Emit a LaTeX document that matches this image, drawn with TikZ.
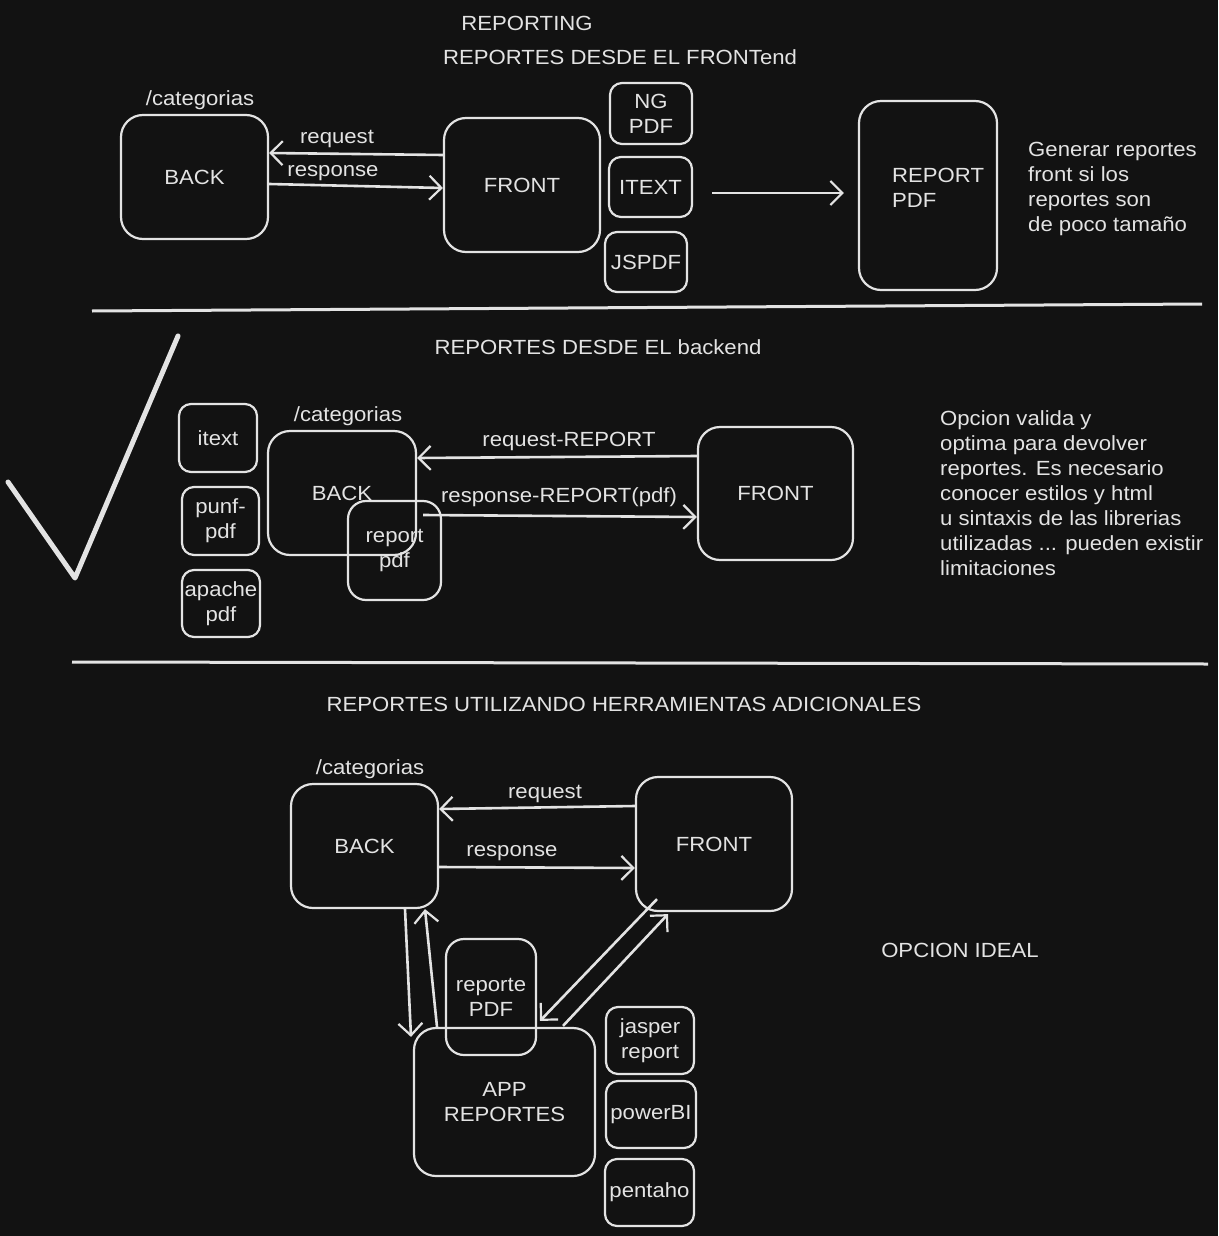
\documentclass[tikz,border=0pt]{standalone}
\usepackage{fontspec}
\setmainfont[FakeStretch=1.08]{Liberation Sans}
\usetikzlibrary{arrows.meta}
\definecolor{bg}{HTML}{121212}
\definecolor{ink}{HTML}{E3E3E3}
\begin{document}
\begin{tikzpicture}[x=1pt,y=-1pt,
  every node/.style={text=ink, font=\fontsize{20.5}{25}\selectfont},
  bigbox/.style={draw=ink, line width=2.2pt, rounded corners=22pt, inner sep=0pt, align=center},
  smallbox/.style={draw=ink, line width=2.2pt, rounded corners=12pt, inner sep=0pt, align=center},
  flow/.style={draw=ink, line width=2.6pt, -{Straight Barb[length=12pt,width=24pt,line width=2.2pt]}},
  rule/.style={draw=ink, line width=3pt},
  lbl/.style={inner sep=0pt, yshift=-2pt},
  note/.style={align=left, anchor=north west, inner sep=0pt}
]
% canvas
\fill[bg] (0,0) rectangle (1218,1236);
\useasboundingbox (0,0) rectangle (1218,1236);

% ---------- reports from the front end ----------
\node[lbl] (ttl0) at (527,21) {REPORTING};
\node[lbl] (ttl1) at (620,55) {REPORTES DESDE EL FRONTend};
\node[lbl] (cat1) at (200,98) {/categorias};
\node[bigbox, minimum width=147pt, minimum height=124pt] (back1) at (194.5,177) {BACK};
\node[bigbox, minimum width=156pt, minimum height=134pt] (front1) at (522,185) {FRONT};
\node[smallbox, minimum width=82pt, minimum height=61pt] (ngpdf) at (651,113.5) {NG\\PDF};
\node[smallbox, minimum width=83pt, minimum height=60pt] (itext1) at (650.5,187) {ITEXT};
\node[smallbox, minimum width=82pt, minimum height=60pt] (jspdf) at (646,262) {JSPDF};
\node[bigbox, minimum width=138pt, minimum height=189pt] (report1) at (928,195.5) {};
\node[lbl, align=left, anchor=west] (reporttxt) at (892,185.5) {REPORT\\PDF};
\node[note] (note1) at (1028,142) {Generar reportes\\front si los\\reportes son\\de poco tamaño};

\draw[flow] ([yshift=30pt]front1.west) -- ([yshift=24pt]back1.east);
\node[lbl] (req1) at (337,137) {request};
\draw[flow] ([yshift=-7pt]back1.east) -- ([yshift=-3pt]front1.west);
\node[lbl] (res1) at (333,171) {response};
\draw[flow] ([xshift=19pt,yshift=-6pt]itext1.east) -- ([xshift=-14pt,yshift=2.5pt]report1.west);

\draw[rule] (92,311) -- (1202,304);

% ---------- reports from the back end ----------
\node[lbl] (ttl2) at (598,345) {REPORTES DESDE EL backend};
\draw[ink, line width=5pt, line join=round, line cap=round] (8,482) -- (75,578) -- (178,336);
\node[smallbox, minimum width=78pt, minimum height=68pt] (itext2) at (218,438) {itext};
\node[smallbox, minimum width=77pt, minimum height=68pt] (punf) at (220.5,521) {punf-\\pdf};
\node[smallbox, minimum width=78pt, minimum height=67pt] (apache) at (221,603.5) {apache\\pdf};
\node[lbl] (cat2) at (348,414) {/categorias};
\node[bigbox, minimum width=148pt, minimum height=124pt] (back2) at (342,493) {BACK};
\node[smallbox, rounded corners=18pt, minimum width=93pt, minimum height=99pt] (rep2) at (394.5,550.5) {report\\pdf};
\node[bigbox, minimum width=155pt, minimum height=133pt] (front2) at (775.5,493.5) {FRONT};

\draw[flow] ([yshift=37.5pt]front2.west) -- ([yshift=35pt]back2.east);
\node[lbl] (req2) at (569,439) {request-REPORT};
\draw[flow] ([xshift=6pt,yshift=-22pt]back2.east) -- ([yshift=-23.5pt]front2.west);
\node[lbl] (res2) at (559,495) {response-REPORT(pdf)};
\node[note] (note2) at (940,410) {Opcion valida y\\optima para devolver\\reportes. Es necesario\\conocer estilos y html\\u sintaxis de las librerias\\utilizadas ... pueden existir\\limitaciones};

\draw[rule] (72,662) -- (1208,664);

% ---------- reports with additional tools ----------
\node[lbl] (ttl3) at (624,702) {REPORTES UTILIZANDO HERRAMIENTAS ADICIONALES};
\node[lbl] (cat3) at (370,767) {/categorias};
\node[bigbox, minimum width=147pt, minimum height=124pt] (back3) at (364.5,846) {BACK};
\node[bigbox, minimum width=156pt, minimum height=134pt] (front3) at (714,844) {FRONT};
\node[lbl] (ideal) at (960,948) {OPCION IDEAL};
\node[bigbox, minimum width=181pt, minimum height=148pt] (app) at (504.5,1102) {APP\\REPORTES};
\node[smallbox, rounded corners=18pt, minimum width=90pt, minimum height=116pt] (reppdf) at (491,997) {reporte\\PDF};
\node[smallbox, minimum width=88pt, minimum height=67pt] (jasper) at (650,1040.5) {jasper\\report};
\node[smallbox, minimum width=90pt, minimum height=67pt] (powerbi) at (651,1114.5) {powerBI};
\node[smallbox, minimum width=89pt, minimum height=67pt] (pentaho) at (649.5,1192.5) {pentaho};

\draw[flow] ([yshift=38pt]front3.west) -- ([yshift=37pt]back3.east);
\node[lbl] (req3) at (545,792) {request};
\draw[flow] ([yshift=-21pt]back3.east) -- ([yshift=-24pt]front3.west);
\node[lbl] (res3) at (512,851) {response};
\draw[flow] ([xshift=40.5pt]back3.south) -- ([xshift=-93.5pt,yshift=-10pt]app.north);
\draw[flow] ([xshift=-67.5pt]app.north) -- ([xshift=60.5pt]back3.south);
\draw[flow] ([xshift=-57pt,yshift=13pt]front3.south) -- ([xshift=35.5pt,yshift=6pt]app.north);
\draw[flow] ([xshift=58.5pt,yshift=1pt]app.north) -- ([xshift=-46pt,yshift=-2pt]front3.south);
\end{tikzpicture}
\end{document}
